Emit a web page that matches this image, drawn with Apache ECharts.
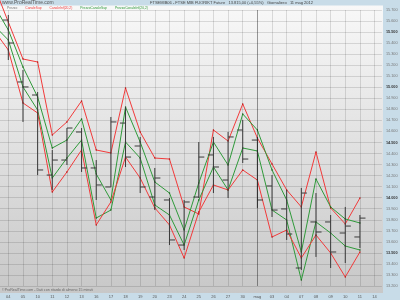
<!DOCTYPE html>
<html><head><meta charset="utf-8">
<script src="https://cdn.jsdelivr.net/npm/echarts@6.0.0/dist/echarts.min.js"></script>
<style>html,body{margin:0;padding:0;background:#c8dce8;overflow:hidden}#c{width:400px;height:300px}</style>
</head><body><div id="c"></div>
<script>
// categories: first one (03 apr) is the previous session, only its line segment is visible
const categories = ['03','04','05','10','11','12','13','16','17','18','19','20','23','24','25','26','27','30','mag','03','04','07','08','09','10','11','14'];
// OHLC bars, 04 apr .. 11 mag (category index 1..25)
const barOpen  = [15609,15048,14930,14205,14341,14595,14269,14097,14676,14468,14006,13979,13571,14006,14387,14160,14613,14522,14106,13898,13363,13780,13780,13680,13644];
const barHigh  = [15655,15157,14957,14432,14631,14631,14341,14731,14821,14550,14269,13997,13979,14504,14550,14595,14704,14550,14205,14070,14088,14042,13843,13916,13843];
const barLow   = [15247,14686,14205,14070,14296,14233,13979,14097,14278,14042,13888,13571,13526,13997,14042,13997,14314,13907,13825,13617,13345,13463,13363,13408,13544];
const barClose = [15401,15003,14251,14341,14631,14269,14115,14686,14368,14097,14178,13617,13961,14368,14278,14550,14350,13979,13888,13671,14042,13689,13508,13743,13815];
// channel lines, 03 apr .. 11 mag (category index 0..25)
const redUpper   = [15927,15591,15256,15229,14568,14686,14876,14432,14405,14994,14595,14359,14350,13916,13852,14613,14513,14849,14541,14305,14070,13916,14414,13907,13762,13997];
const greenUpper = [15745,15519,15184,14912,14450,14522,14713,14215,13979,14821,14504,14142,14042,13707,14133,14504,14296,14758,14613,14251,13979,13508,14169,13916,13807,13771];
const greenLower = [15564,15428,15003,14794,14178,14359,14522,13816,13888,14504,14359,13934,13843,13571,13979,14278,14070,14450,14423,13888,13798,13254,13780,13680,13562,13526];
const redLower   = [15519,15338,14858,14767,14051,14233,14432,13753,13961,14368,14178,13907,13753,13454,13870,14115,14070,14251,14160,13644,13707,13454,13662,13499,13282,13508];
const seriesNames = ['Prezzo','CanaleSup','CanaleInf(20,2)','PrezzoCanaleSup','PrezzoCanaleInf(20,2)'];
const yMin = 13200, yMax = 15700, yStep = 100;

const RED = '#f23a3a', GREEN = '#2f9a3a', FONT = 'Liberation Sans';
function fmtK(v){ const s = String(Math.round(v)); return s.slice(0,-3)+'.'+s.slice(-3); }

const chart = echarts.init(document.getElementById('c'), null, {renderer:'canvas'});
const bars = barOpen.map((o,i)=>[i+1, o, barHigh[i], barLow[i], barClose[i]]);
const last = a => a[a.length-1];

function endMark(val, text, bg, border, color){
  return { symbol:'none', silent:true, animation:false,
    lineStyle:{opacity:0},
    label:{show:true, position:'end', distance:2, formatter:text, fontSize:3.8, color:color, fontFamily:FONT,
      backgroundColor:bg, borderColor:border, borderWidth:0.6, padding:[1,1,0.5,1]},
    data:[{yAxis:val}] };
}
function lineSeries(name, data, color, dot, mark){
  return { name, type:'line', data, symbol:'circle', symbolSize:1.4, showSymbol:true, clip:false, animation:false,
    lineStyle:{color, width:1}, itemStyle:{color:dot}, z:3, markLine: mark };
}

chart.setOption({
  animation:false,
  backgroundColor:'#c8dce8',
  textStyle:{fontFamily:FONT},
  title:[
    {text:'www.ProRealTime.com', left:2, top:0, padding:0, textStyle:{fontSize:5, color:'#555', fontWeight:'normal', fontFamily:FONT}},
    {text:'FTSEMIB06 - FTSE MIB FUORIKT Future   13.815,00 (+0,55%)   Giornaliero   11 mag 2012', left:150, top:0.5, padding:0, textStyle:{fontSize:4, color:'#444', fontWeight:'normal', fontFamily:FONT}},
    {text:'©ProRealTime.com - Dati con ritardo di almeno 15 minuti', left:2, top:287.5, padding:0, textStyle:{fontSize:3.6, color:'#666', fontWeight:'normal', fontFamily:FONT}}
  ],
  legend:{left:2, top:6.8, padding:0, itemGap:3, itemWidth:0, itemHeight:0, icon:'none', selectedMode:false,
    textStyle:{fontSize:3.3, padding:0, fontFamily:FONT},
    data:[
      {name:seriesNames[0], textStyle:{color:'#777'}},
      {name:seriesNames[1], textStyle:{color:RED}},
      {name:seriesNames[2], textStyle:{color:RED}},
      {name:seriesNames[3], textStyle:{color:GREEN}},
      {name:seriesNames[4], textStyle:{color:GREEN}}
    ]},
  graphic:[
    {type:'rect', z:-10, silent:true, shape:{x:0,y:5.5,width:383,height:287.5},
      style:{fill:new echarts.graphic.LinearGradient(0,0,0,1,[{offset:0,color:'#f8f8f8'},{offset:1,color:'#c8c8c8'}])}}
  ],
  grid:{left:-13.65, right:18.1, top:10, bottom:14, outerBoundsMode:'none', containLabel:false},
  xAxis:{type:'category', data:categories, boundaryGap:true,
    axisLine:{show:false}, axisTick:{show:false},
    axisLabel:{interval:0, margin:9, fontSize:4, color:'#555', fontFamily:FONT, formatter:(v,i)=> i===0 ? '' : v},
    splitLine:{show:true, alignWithLabel:true, lineStyle:{color:'rgba(0,0,0,0.12)', width:1}}},
  yAxis:{type:'value', position:'right', min:yMin, max:yMax, interval:yStep,
    axisLine:{show:false}, axisTick:{show:false},
    axisLabel:{margin:4, fontSize:3.8, color:'#777', fontFamily:FONT,
      formatter:v => v % 500 === 0 ? '{b|'+fmtK(v)+'}' : fmtK(v),
      rich:{b:{fontSize:3.8, color:'#333', fontWeight:'bold', fontFamily:FONT}}},
    splitLine:{show:true, lineStyle:{color:'rgba(0,0,0,0.12)', width:1}}},
  series:[
    { name:seriesNames[0], type:'custom', data:bars, encode:{x:0, y:[1,2,3,4]}, z:4, animation:false,
      itemStyle:{color:'#333'},
      renderItem:function(params, api){
        const x = api.value(0);
        const o = api.coord([x, api.value(1)]);
        const h = api.coord([x, api.value(2)]);
        const l = api.coord([x, api.value(3)]);
        const c = api.coord([x, api.value(4)]);
        const w = api.size([1,0])[0]*0.38;
        const col = '#3a3a3a';
        const px = h[0];
        return {type:'group', children:[
          {type:'line', shape:{x1:px,y1:h[1],x2:px,y2:l[1]}, style:{stroke:col,lineWidth:1}},
          {type:'line', shape:{x1:px-w,y1:o[1],x2:px,y2:o[1]}, style:{stroke:col,lineWidth:1}},
          {type:'line', shape:{x1:px,y1:c[1],x2:px+w,y2:c[1]}, style:{stroke:col,lineWidth:1}}
        ]};
      },
      markLine:{symbol:'none', silent:true, animation:false,
        lineStyle:{color:'rgba(0,0,0,0.3)', type:'solid', width:1},
        label:{show:false}, data:[{xAxis:'mag'}]}
    },
    lineSeries(seriesNames[1], redUpper, RED, '#b01010', endMark(last(redUpper), fmtK(last(redUpper)), '#fff', RED, RED)),
    lineSeries(seriesNames[3], greenUpper, GREEN, '#155a15', endMark(last(greenUpper), fmtK(last(greenUpper)), '#e6eee6', '#9bb89b', '#557755')),
    lineSeries(seriesNames[4], greenLower, GREEN, '#155a15', endMark(last(greenLower), fmtK(last(greenLower)), '#eef6ee', GREEN, GREEN)),
    lineSeries(seriesNames[2], redLower, RED, '#b01010', endMark(last(redLower), fmtK(last(redLower)), '#fde8e8', RED, RED)),
    { name:'close', type:'line', data:[], markLine: endMark(last(barClose), fmtK(last(barClose))+',0', '#ffff00', '#cccc00', '#333') }
  ]
});
</script></body></html>
